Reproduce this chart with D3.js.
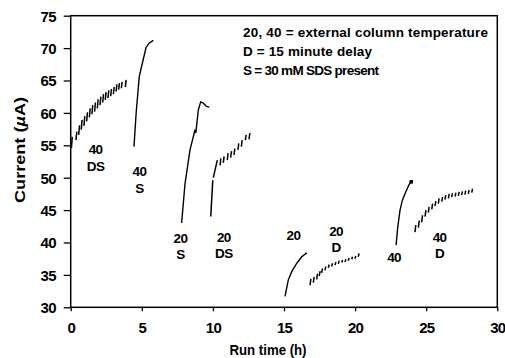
<!DOCTYPE html>
<html><head><meta charset="utf-8">
<script src="https://cdn.jsdelivr.net/npm/d3@7"></script>
<style>
html,body{margin:0;padding:0;background:#fff;}
text{font-family:"Liberation Sans",Arial,Helvetica,sans-serif;font-weight:bold;fill:#000;}
</style></head>
<body><svg id="c" width="505" height="358"></svg>
<script>
// ---- data ----
const xTicks = [0,5,10,15,20,25,30];
const yTicks = [30,35,40,45,50,55,60,65,70,75];

// 40 DS (ticked series): time, low, high
const t40DS  = [0.05,0.37,0.56,0.74,0.93,1.12,1.31,1.49,1.68,1.87,2.06,2.25,2.43,2.62,2.81,3.0,3.19,3.37,3.56,3.84];
const lo40DS = [54.6,55.8,56.6,57.4,58.0,58.7,59.3,59.8,60.2,60.7,61.2,61.6,62.0,62.3,62.6,62.9,63.3,63.6,63.8,64.0];
const hi40DS = [56.3,57.1,58.1,58.9,59.5,60.1,60.7,61.2,61.6,62.1,62.5,62.9,63.2,63.5,63.7,64.0,64.4,64.6,64.8,65.1];

// 40 S (continuous)
const c40S = [[4.45,54.8],[4.6,59.9],[4.82,65.6],[5.15,68.7],[5.3,70.1],[5.53,70.8],[5.81,71.2]];

// 20 S (continuous)
const c20S = [[7.8,43.0],[8.04,49.1],[8.39,54.3],[8.62,56.3],[8.74,57.4],[8.8,56.9],[8.97,60.4],[9.14,61.7],[9.32,61.5],[9.55,61.0],[9.75,60.9]];

// 20 DS: initial rises then ticks
const c20DSa = [[9.85,44.0],[9.99,49.6]];
const c20DSb = [[10.03,50.0],[10.31,52.7]];
const t20DS  = [10.5,10.73,11.01,11.25,11.48,11.76,12.0,12.28,12.54];
const lo20DS = [51.9,52.3,52.7,53.1,53.5,54.3,54.8,55.8,55.9];
const hi20DS = [53.0,53.3,53.8,54.1,54.5,55.3,55.8,56.6,56.9];

// 20 (continuous)
const c20 = [[15.07,31.7],[15.3,34.2],[15.54,35.5],[15.9,36.8],[16.25,37.8],[16.6,38.4]];

// 20 D (ticks)
const t20D  = [16.83,17.06,17.3,17.48,17.65,17.88,18.12,18.35,18.59,18.82,19.06,19.29,19.52,19.76,19.99,20.22];
const lo20D = [33.4,33.8,34.3,34.8,35.3,35.7,36.1,36.3,36.5,36.7,36.9,37.0,37.2,37.4,37.5,37.8];
const hi20D = [34.4,34.7,35.2,35.6,36.0,36.3,36.6,36.8,37.0,37.2,37.3,37.4,37.6,37.8,37.9,38.3];

// 40 (continuous)
const c40 = [[22.88,39.6],[23.0,42.4],[23.16,45.0],[23.32,46.5],[23.56,47.8],[23.79,48.9],[23.93,49.4]];

// 40 D (ticks)
const t40D  = [24.21,24.45,24.68,24.92,25.15,25.39,25.62,25.85,26.09,26.32,26.56,26.79,27.03,27.26,27.49,27.72,27.96,28.2];
const lo40D = [41.6,42.3,43.1,44.0,44.6,45.1,45.6,46.0,46.3,46.6,46.8,47.0,47.1,47.2,47.3,47.4,47.5,47.7];
const hi40D = [42.7,43.4,44.2,45.0,45.5,46.0,46.4,46.8,47.0,47.3,47.5,47.6,47.7,47.8,47.9,48.0,48.1,48.3];

// annotation labels: [text, time, current(baseline)]
const labels = [
  ["40",1.75,53.6],["DS",1.75,51.0],
  ["40",4.84,50.2],["S",4.84,47.7],
  ["20",7.72,40.0],["S",7.72,37.5],
  ["20",10.77,40.1],["DS",10.77,37.6],
  ["20",15.66,40.4],
  ["20",18.66,41.0],["D",18.66,38.5],
  ["40",22.74,37.0],
  ["40",25.94,40.1],["D",25.94,37.6]
];
const legendLines = ["20, 40 = external column temperature","D = 15 minute delay","S = 30 mM SDS present"];
const legendWidths = [245,129,136];

// ---- chart ----
const svg = d3.select("#c");
const x = d3.scaleLinear().domain([0,30]).range([70.7,497.3]);
const y = d3.scaleLinear().domain([30,75]).range([307.3,15.7]);

// axes
const ya = svg.append("g").attr("transform",`translate(${x(0)},0)`)
  .call(d3.axisLeft(y).tickValues(yTicks).tickSize(7).tickPadding(8).tickFormat(d3.format("d")));
ya.select(".domain").remove();
ya.selectAll("line").attr("stroke","#000").attr("stroke-width",1.3);
ya.selectAll("text").style("font-size","15px").attr("letter-spacing","-0.8").attr("dy","0.36em");

const xa = svg.append("g").attr("transform",`translate(0,${y(30)})`)
  .call(d3.axisBottom(x).tickValues(xTicks).tickSize(4).tickPadding(11).tickFormat(d3.format("d")));
xa.select(".domain").remove();
xa.selectAll("line").attr("stroke","#000").attr("stroke-width",1.3);
xa.selectAll("text").style("font-size","15px").attr("letter-spacing","-0.8");

// frame
svg.append("rect").attr("x",x(0)).attr("y",y(75)).attr("width",x(30)-x(0)).attr("height",y(30)-y(75))
  .attr("fill","none").attr("stroke","#000").attr("stroke-width",1.5);

// lines
const lineL = d3.line().x(d=>x(d[0])).y(d=>y(d[1]));
[c40S,c20S,c20,c40].forEach(c=>{
  svg.append("path").attr("d",lineL(c)).attr("fill","none").attr("stroke","#000").attr("stroke-width",1.4);
});
[c20DSa,c20DSb].forEach(c=>{
  svg.append("path").attr("d",lineL(c)).attr("fill","none").attr("stroke","#000").attr("stroke-width",1.5);
});
// end marker on 40 curve
const e = c40[c40.length-1];
svg.append("rect").attr("x",x(e[0])-1.5).attr("y",y(e[1])-1.5).attr("width",3.5).attr("height",3.5).attr("fill","#000");

// tick series
const slant = 0.06;
function ticks(ts,lo,hi){
  svg.append("g").selectAll("line").data(ts).join("line")
    .attr("x1",(d)=>x(d)).attr("y1",(d,i)=>y(lo[i]))
    .attr("x2",(d)=>x(d+slant)).attr("y2",(d,i)=>y(hi[i]))
    .attr("stroke","#000").attr("stroke-width",1.5);
}
ticks(t40DS,lo40DS,hi40DS);
ticks(t20DS,lo20DS,hi20DS);
ticks(t20D,lo20D,hi20D);
ticks(t40D,lo40D,hi40D);

// annotations
svg.append("g").selectAll("text").data(labels).join("text")
  .attr("x",d=>x(d[1])).attr("y",d=>y(d[2])).attr("text-anchor","middle")
  .style("font-size","13.5px").attr("letter-spacing","-0.6").text(d=>d[0]);

// legend
svg.append("g").selectAll("text").data(legendLines).join("text")
  .attr("x",243).attr("y",(d,i)=>37+i*19)
  .style("font-size","13.5px")
  .attr("textLength",(d,i)=>legendWidths[i]).attr("lengthAdjust","spacing")
  .text(d=>d);

// axis titles
svg.append("text").attr("x",268).attr("y",355).attr("text-anchor","middle")
  .style("font-size","14px").attr("textLength",77).attr("lengthAdjust","spacingAndGlyphs").text("Run time (h)");
const yt = svg.append("text").attr("transform","translate(25,150) rotate(-90)").attr("text-anchor","middle")
  .style("font-size","15px").attr("textLength",106).attr("lengthAdjust","spacingAndGlyphs");
yt.append("tspan").text("Current (");
yt.append("tspan").style("font-style","italic").text("µ");
yt.append("tspan").text("A)");
</script></body></html>
